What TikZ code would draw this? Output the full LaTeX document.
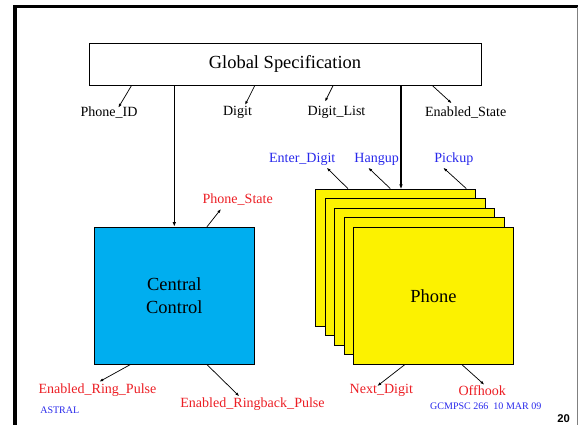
\documentclass[tikz,border=0pt]{standalone}
\usepackage{fontspec}
\setmainfont{Liberation Serif}
\newfontfamily\pagefont{Liberation Sans}
\usetikzlibrary{arrows.meta,calc}
\definecolor{ccblue}{RGB}{0,174,239}
\definecolor{phyellow}{RGB}{252,242,0}
\definecolor{sigred}{RGB}{236,30,36}
\definecolor{sigblue}{RGB}{40,40,235}
\begin{document}
\begin{tikzpicture}[x=1.2457pt,y=-1.2457pt,
  bigtext/.style={font=\fontsize{23}{27.8}\selectfont},
  unitbox/.style={draw, rectangle, line width=0.9pt, inner sep=0pt, minimum width=199.3pt, minimum height=170.7pt, bigtext, align=center},
  sig/.style={inner sep=0pt, font=\fontsize{17.5}{20}\selectfont},
  note/.style={inner sep=0pt, text=sigblue, font=\fontsize{12.5}{14}\selectfont},
  sigarr/.style={-{Latex[length=5pt,width=3.6pt]}, line width=0.9pt},
  feed/.style={-{Latex[length=6pt,width=4.4pt]}, line width=1.7pt}]
\useasboundingbox (0,0) rectangle (578,425);
\draw[line width=4pt] (15,425) -- (15,6.7) -- (578,6.7);
\draw[gray, line width=1.5pt] (577.3,6.7) -- (577.3,425);
\node[draw, rectangle, line width=0.9pt, inner sep=0pt, minimum width=488pt, minimum height=52.3pt, bigtext] (gs) at (285,64.3) {Global Specification};
\node[sig] (pid) at (109,112.3) {Phone\_ID};
\node[sig] (dg) at (237.5,112.3) {Digit};
\node[sig] (dl) at (336.5,112.3) {Digit\_List};
\node[sig] (es) at (465.7,112.3) {Enabled\_State};
\node[unitbox, fill=ccblue] (cc) at (174.3,295.7) {Central\\Control};
\foreach \i in {0,...,4}
  \node[unitbox, fill=phyellow] (ph\i) at (395.7+9.45*\i,257.5+9.55*\i) {};
\node[bigtext] at (ph4) {Phone};
\node[sig, text=sigred] (ps) at (237.7,199.3) {Phone\_State};
\node[sig, text=sigblue] (ed) at (302.2,159.5) {Enter\_Digit};
\node[sig, text=sigblue] (hu) at (376.7,159.5) {Hangup};
\node[sig, text=sigblue] (pu) at (453.8,159.5) {Pickup};
\node[sig, text=sigred] (erp) at (97.5,390) {Enabled\_Ring\_Pulse};
\node[sig, text=sigred] (erbp) at (252.5,404.3) {Enabled\_Ringback\_Pulse};
\node[sig, text=sigred] (nd) at (381.3,390.7) {Next\_Digit};
\node[sig, text=sigred] (oh) at (482.2,390.7) {Offhook};
\node[note] (astral) at (59.8,410) {ASTRAL};
\node[note] (gcm) at (485.8,406.7) {GCMPSC 266~~10 MAR 09};
\node[inner sep=0pt, font=\pagefont\bfseries\fontsize{14}{16}\selectfont] (pg) at (563.5,419) {20};
\draw[feed] (gs.south -| cc.north) -- (cc.north);
\draw[feed] (gs.south -| 401,0) -- (401,189.3);
\draw[sigarr] ($(gs.south west)+(42.7,0)$) -- ($(pid)+(9.3,-4.6)$);
\draw[sigarr] ($(gs.south west)+(166,0)$) -- ($(dg)+(7.5,-7.3)$);
\draw[sigarr] ($(gs.south west)+(244.3,0)$) -- ($(dl)+(-11.5,-10.6)$);
\draw[sigarr] ($(gs.south west)+(343.7,0)$) -- ($(es)+(-14,-9)$);
\draw[sigarr] ($(cc.north west)+(113,0)$) -- ($(ps)+(-16.7,9.7)$);
\draw[sigarr] ($(ph0.north west)+(32.6,0)$) -- ($(ed)+(24.5,8.2)$);
\draw[sigarr] ($(ph0.north west)+(75,0)$) -- ($(hu)+(-8.4,8.2)$);
\draw[sigarr] ($(ph0.north west)+(151,0)$) -- ($(pu)+(-10.5,8.2)$);
\draw[sigarr] ($(cc.south west)+(36.4,0)$) -- ($(erp)+(1.8,-8.3)$);
\draw[sigarr] ($(cc.south west)+(113,0)$) -- ($(erbp)+(-13.2,-8)$);
\draw[sigarr] ($(ph4.south west)+(51.7,0)$) -- ($(nd)+(-4,-4.7)$);
\draw[sigarr] ($(ph4.south west)+(108.7,0)$) -- ($(oh)+(2.1,-6)$);
\end{tikzpicture}
\end{document}
